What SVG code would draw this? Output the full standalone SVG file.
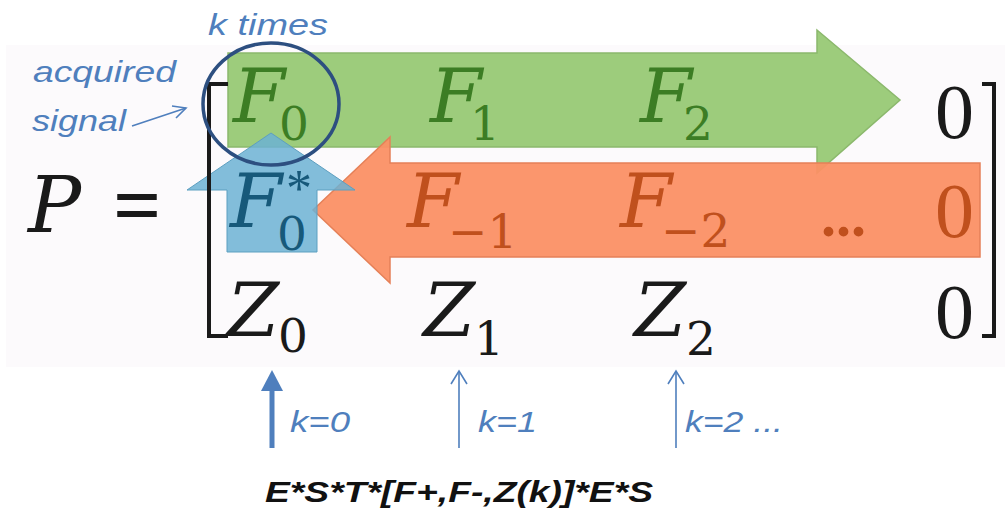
<svg xmlns="http://www.w3.org/2000/svg" width="1005" height="513" viewBox="0 0 1005 513">
  <style>
    .ann { font-family: "Liberation Sans", "Open Sans", sans-serif; font-style: italic; fill: #4f7fbd; font-size: 30px; }
    .m { font-family: "DejaVu Serif", "Liberation Serif", serif; }
    .t { font-family: "Liberation Serif", "DejaVu Serif", serif; }
    .big { font-size: 75px; font-style: italic; }
    .sub { font-size: 47px; font-style: normal; }
    .zero { font-size: 78px; }
    .g { fill: #3c7d24; }
    .o { fill: #c0501d; }
    .b { fill: #17597a; }
    .k { fill: #1a1a1a; }
    .thin { stroke: #4f7fbd; stroke-width: 1.6; fill: none; }
    .brk { stroke: #1a1a1a; stroke-width: 4; fill: none; }
  </style>
  <rect x="0" y="0" width="1005" height="513" fill="#ffffff"/>
  <rect x="6" y="45" width="999" height="322" fill="#fcfafc"/>

  <g id="green-arrow">
    <polygon points="228,53 817,53 817,30 900,100 817,173 817,147 228,147" fill="#9dcc7c" stroke="#8bb86c" stroke-width="1.5"/>
  </g>
  <g id="orange-arrow">
    <polygon points="980,163 390,163 390,137 313,210 390,283 390,257 980,257" fill="#fb9065" fill-opacity="0.95" stroke="#e58058" stroke-width="1.5"/>
  </g>
  <g id="blue-arrow">
    <polygon points="271,133 355,190 317,190 317,252 227,252 227,190 187,190" fill="#6cb1d4" fill-opacity="0.85" stroke="#5d9fc0" stroke-width="1"/>
  </g>

  <g id="matrix-brackets">
    <polyline class="brk" points="228,84 209,84 209,336 228,336"/>
    <polyline class="brk" points="982,84 994,84 994,336 982,336"/>
  </g>

  <g id="lhs">
    <text class="m k" x="28" y="232" font-size="79" font-style="italic">P</text>
    <text class="t k" x="113" y="234" font-size="85" font-weight="bold">=</text>
  </g>

  <g id="row1">
    <text class="m big g" x="233" y="122">F<tspan class="sub" x="279" y="140">0</tspan></text>
    <text class="m big g" x="430" y="122">F<tspan class="sub" x="470" y="140">1</tspan></text>
    <text class="m big g" x="640" y="122">F<tspan class="sub" x="683" y="140">2</tspan></text>
    <text class="t zero k" x="935" y="138">0</text>
  </g>

  <g id="row2">
    <text class="m big b" x="230" y="227">F<tspan class="t" x="286" y="206" font-size="52" font-style="normal">*</tspan><tspan class="sub" x="277" y="250">0</tspan></text>
    <text class="m big o" x="407" y="227">F<tspan class="sub" x="448" y="248">−1</tspan></text>
    <text class="m big o" x="620" y="227">F<tspan class="sub" x="661" y="247">−2</tspan></text>
    <text class="t o" x="821" y="236" font-size="60" font-weight="bold">...</text>
    <text class="t zero o" x="935" y="237">0</text>
  </g>

  <g id="row3">
    <text class="m big k" x="227" y="336">Z<tspan class="sub" x="278" y="352">0</tspan></text>
    <text class="m big k" x="423" y="336">Z<tspan class="sub" x="474" y="355">1</tspan></text>
    <text class="m big k" x="634" y="336">Z<tspan class="sub" x="686" y="355">2</tspan></text>
    <text class="t zero k" x="935" y="338">0</text>
  </g>

  <g id="circle">
    <ellipse cx="271" cy="104" rx="68" ry="61" fill="none" stroke="#2d4f80" stroke-width="3.5"/>
  </g>

  <g id="labels">
    <text class="ann" x="208" y="35" textLength="120" lengthAdjust="spacingAndGlyphs">k times</text>
    <text class="ann" x="33" y="82" textLength="143" lengthAdjust="spacingAndGlyphs">acquired</text>
    <text class="ann" x="32" y="131" textLength="94" lengthAdjust="spacingAndGlyphs">signal</text>
    <text class="ann" x="290" y="432" textLength="60" lengthAdjust="spacingAndGlyphs">k=0</text>
    <text class="ann" x="478" y="432" textLength="59" lengthAdjust="spacingAndGlyphs">k=1</text>
    <text class="ann" x="685" y="432" textLength="98" lengthAdjust="spacingAndGlyphs">k=2 ...</text>
    <text x="265" y="502" font-family="Liberation Sans, Open Sans, sans-serif" font-style="italic" font-weight="bold" font-size="30" fill="#111111" textLength="388" lengthAdjust="spacingAndGlyphs">E*S*T*[F+,F-,Z(k)]*E*S</text>
  </g>

  <g id="connectors">
    <line class="thin" x1="132" y1="126" x2="186" y2="108"/>
    <polyline class="thin" points="172,106 186,108 176,118"/>
    <line x1="272" y1="448" x2="272" y2="388" stroke="#4f7fbd" stroke-width="5"/>
    <polygon points="272,370 283,391 261,391" fill="#4f7fbd"/>
    <line class="thin" x1="459" y1="448" x2="459" y2="372"/>
    <polyline class="thin" points="451,384 459,371 467,384"/>
    <line class="thin" x1="676" y1="448" x2="676" y2="372"/>
    <polyline class="thin" points="668,384 676,371 684,384"/>
  </g>
</svg>
